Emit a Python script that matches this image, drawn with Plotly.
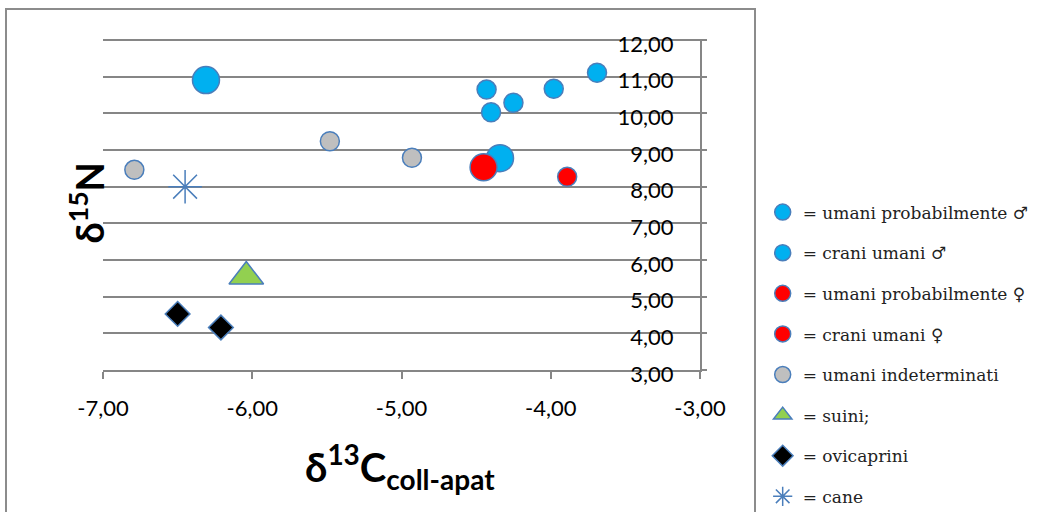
import plotly.graph_objects as go

# ---- data ----
x_prob_m = [-4.43, -4.40, -4.25, -3.98, -3.69]
y_prob_m = [10.65, 10.03, 10.29, 10.67, 11.11]
x_cran_m = [-6.31, -4.34]
y_cran_m = [10.91, 8.78]
x_prob_f = [-3.89]
y_prob_f = [8.27]
x_cran_f = [-4.45]
y_cran_f = [8.53]
x_indet = [-6.79, -5.48, -4.93]
y_indet = [8.46, 9.24, 8.79]
x_suini = [-6.04]
y_suini = [5.55]
x_ovi = [-6.50, -6.21]
y_ovi = [4.53, 4.16]
x_cane = [-6.45]
y_cane = [8.00]

x_ticks = [-7, -6, -5, -4, -3]
y_ticks = [3, 4, 5, 6, 7, 8, 9, 10, 11, 12]

labels = ["= umani probabilmente ♂", "= crani umani ♂", "= umani probabilmente ♀",
          "= crani umani ♀", "= umani indeterminati", "= suini;", "= ovicaprini", "= cane"]

def fmt(v):
    return f"{v:.2f}".replace(".", ",")

OUT = "#4A7EBB"
GRID = "#868686"

fig = go.Figure()

def add(xs, ys, name, color, size, symbol="circle", lw=1.5, lc=OUT):
    fig.add_trace(go.Scatter(
        x=xs, y=ys, mode="markers", name=name, legendgroup=name,
        marker=dict(color=color, size=size, symbol=symbol,
                    line=dict(color=lc, width=lw))))

add(x_prob_m, y_prob_m, labels[0], "#00B0F0", 19)
add(x_cran_m, y_cran_m, labels[1], "#00B0F0", 27)
add(x_prob_f, y_prob_f, labels[2], "#FF0000", 19)
add(x_cran_f, y_cran_f, labels[3], "#FF0000", 27)
add(x_indet, y_indet, labels[4], "#BFBFBF", 19)
add(x_suini, y_suini, labels[5], "#92D050", 30, "triangle-up")
add(x_ovi, y_ovi, labels[6], "#000000", 19, "diamond")
add(x_cane, y_cane, labels[7], "#4A7EBB", 28, "asterisk-open", 1.5, "#4A7EBB")

tickfont = dict(family="Lato", size=22, color="#000000")

fig.update_layout(
    width=1038, height=512,
    margin=dict(l=103, r=338, t=39, b=142, autoexpand=False),
    paper_bgcolor="white", plot_bgcolor="white",
    showlegend=True,
    legend=dict(x=1.105, xanchor="left", y=0.53, yanchor="top",
                font=dict(family="DejaVu Serif", size=17, color="#222222"),
                tracegroupgap=15.5, itemsizing="trace", bgcolor="rgba(0,0,0,0)",
                maxheight=420),
    xaxis=dict(range=[-7, -3], tickvals=x_ticks, ticktext=[fmt(v) for v in x_ticks],
               showgrid=False, zeroline=False, showline=True,
               linecolor=GRID, linewidth=1.5, ticks="outside", ticklen=7,
               tickcolor=GRID, tickwidth=1.5, tickfont=tickfont,
               ticklabelstandoff=11),
    yaxis=dict(range=[3, 12.03], tickvals=y_ticks, ticktext=[fmt(v) for v in y_ticks],
               side="right",
               showgrid=True, gridcolor=GRID, gridwidth=1.5, zeroline=False,
               showline=True, linecolor=GRID, linewidth=1.5,
               ticks="outside", ticklen=5, tickcolor=GRID, tickwidth=1.5,
               tickfont=tickfont, ticklabelposition="inside",
               ticklabelstandoff=28, ticklabeloverflow="allow",
               ticklabelshift=4),
)

# chart frame
fig.add_shape(type="rect", xref="paper", yref="paper",
              x0=(6 - 103) / 597, x1=(755 - 103) / 597,
              y0=(370 - 530) / 330, y1=(370 - 10) / 330,
              line=dict(color="#8C8C8C", width=2), layer="below")

# axis titles
fig.add_annotation(xref="paper", yref="paper", x=(88 - 103) / 597, y=(370 - 204) / 330,
                   text="<b>δ<sup>15</sup>N</b>", textangle=-90, showarrow=False,
                   font=dict(family="Lato", size=38, color="#000000"),
                   xanchor="center", yanchor="middle")
fig.add_annotation(xref="paper", yref="paper", x=(400 - 103) / 597, y=(370 - 466) / 330,
                   text="<b>δ<sup>13</sup>C<sub>coll-apat</sub></b>", showarrow=False,
                   font=dict(family="Lato", size=40, color="#000000"),
                   xanchor="center", yanchor="middle")

fig.write_html("out.html", config={"displayModeBar": False},
               post_script="document.body.style.margin='0';")
